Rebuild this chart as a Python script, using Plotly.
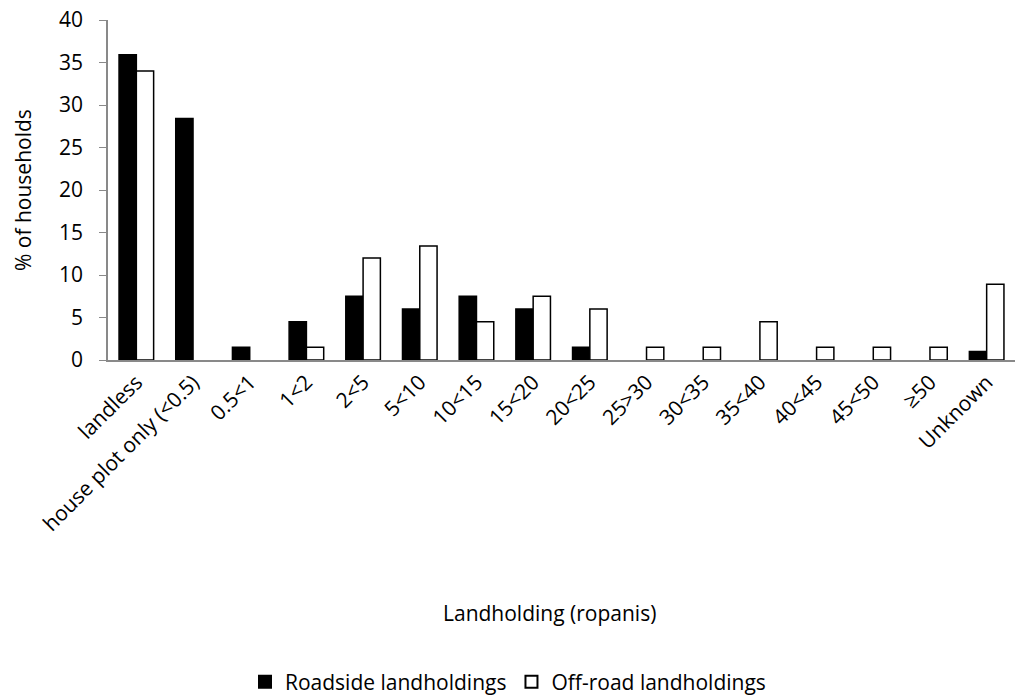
import plotly.graph_objects as go

categories = ["landless", "house plot only (<0.5)", "0.5<1", "1<2", "2<5", "5<10",
              "10<15", "15<20", "20<25", "25>30", "30<35", "35<40", "40<45",
              "45<50", "≥50", "Unknown"]
roadside = [35.9, 28.4, 1.5, 4.5, 7.5, 6.0, 7.5, 6.0, 1.5, 0, 0, 0, 0, 0, 0, 1.0]
offroad = [34.0, 0, 0, 1.5, 12.0, 13.4, 4.5, 7.5, 6.0, 1.5, 1.5, 4.5, 1.5, 1.5, 1.5, 8.9]
y_ticks = [0, 5, 10, 15, 20, 25, 30, 35, 40]

FONT = "Open Sans, Lato, sans-serif"
FS = 21


def outline(vals):
    return [0 if v == 0 else 1.5 for v in vals]


fig = go.Figure()
fig.add_trace(go.Bar(name="Roadside landholdings", x=categories, y=roadside,
                     marker=dict(color="black",
                                 line=dict(color="black", width=outline(roadside)))))
fig.add_trace(go.Bar(name="Off-road landholdings", x=categories, y=offroad,
                     marker=dict(color="white",
                                 line=dict(color="black", width=outline(offroad)))))

W, H = 1016, 699
fig.update_layout(
    width=W, height=H,
    margin=dict(l=108, r=1, t=20, b=H - 360, autoexpand=False),
    paper_bgcolor="white", plot_bgcolor="white",
    barmode="group", bargap=0.39, bargroupgap=0,
    font=dict(family=FONT, size=FS, color="black"),
    showlegend=True,
    legend=dict(orientation="h", xref="container", x=0.5, xanchor="center",
                yref="container", y=17 / H, yanchor="middle",
                font=dict(size=FS), itemsizing="constant", traceorder="normal",
                itemwidth=30),
)
fig.update_xaxes(showline=True, linecolor="#898989", linewidth=1.5, tickangle=-45,
                 ticks="", showgrid=False, tickfont=dict(size=FS),
                 range=[-0.5, len(categories) - 0.5], automargin=False)
fig.update_yaxes(showline=True, linecolor="#898989", linewidth=1.5, range=[0, 40],
                 tickvals=y_ticks, ticks="outside", ticklen=7, tickcolor="#898989",
                 ticklabelstandoff=12,
                 showgrid=False, zeroline=False, tickfont=dict(size=FS), automargin=False)

fig.add_annotation(text="Landholding (ropanis)", xref="paper", yref="paper",
                   x=(549 - 108) / 907, y=(360 - 613) / 340, showarrow=False,
                   font=dict(size=FS), xanchor="center", yanchor="middle")
fig.add_annotation(text="% of households", xref="paper", yref="paper",
                   x=(23 - 108) / 907, y=0.5, showarrow=False, textangle=-90,
                   font=dict(size=FS), xanchor="center", yanchor="middle")

fig.write_html("out.html", config={"displayModeBar": False},
               post_script="document.body.style.margin='0';"
               "document.body.style.overflow='hidden';")
